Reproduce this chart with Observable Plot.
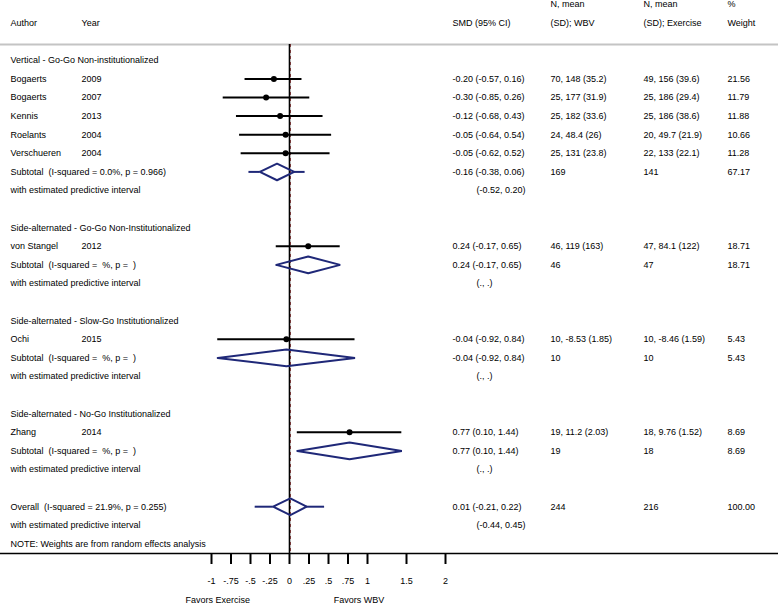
<!DOCTYPE html>
<html>
<head>
<meta charset="utf-8">
<script src="https://cdn.jsdelivr.net/npm/d3@7"></script>
<script src="https://cdn.jsdelivr.net/npm/@observablehq/plot@0.6"></script>
<style>
  html, body { margin: 0; padding: 0; background: white; }
  svg text { white-space: pre; }
</style>
</head>
<body>
<div id="chart"></div>
<script>
// ---- Study-level data ----
const authors = ["Bogaerts", "Bogaerts", "Kennis", "Roelants", "Verschueren", "von Stangel", "Ochi", "Zhang"];
const years = ["2009", "2007", "2013", "2004", "2004", "2012", "2015", "2014"];
const studyGroup = [0, 0, 0, 0, 0, 1, 2, 3];
const smd = [-0.20, -0.30, -0.12, -0.05, -0.05, 0.24, -0.04, 0.77];
const ciLow = [-0.57, -0.85, -0.68, -0.64, -0.62, -0.17, -0.92, 0.10];
const ciHigh = [0.16, 0.26, 0.43, 0.54, 0.52, 0.65, 0.84, 1.44];
const wbvText = ["70, 148 (35.2)", "25, 177 (31.9)", "25, 182 (33.6)", "24, 48.4 (26)", "25, 131 (23.8)", "46, 119 (163)", "10, -8.53 (1.85)", "19, 11.2 (2.03)"];
const exerciseText = ["49, 156 (39.6)", "25, 186 (29.4)", "25, 186 (38.6)", "20, 49.7 (21.9)", "22, 133 (22.1)", "47, 84.1 (122)", "10, -8.46 (1.59)", "18, 9.76 (1.52)"];
const weights = ["21.56", "11.79", "11.88", "10.66", "11.28", "18.71", "5.43", "8.69"];

// ---- Subgroup data ----
const groupLabels = ["Vertical - Go-Go Non-institutionalized", "Side-alternated - Go-Go Non-Institutionalized", "Side-alternated - Slow-Go Institutionalized", "Side-alternated - No-Go Institutionalized"];
const groupHet = ["I-squared = 0.0%, p = 0.966", "I-squared =  %, p =  ", "I-squared =  %, p =  ", "I-squared =  %, p =  "];
const groupSmd = [-0.16, 0.24, -0.04, 0.77];
const groupLow = [-0.38, -0.17, -0.92, 0.10];
const groupHigh = [0.06, 0.65, 0.84, 1.44];
const groupPiLow = [-0.52, null, null, null];
const groupPiHigh = [0.20, null, null, null];
const groupNWbv = ["169", "46", "10", "19"];
const groupNEx = ["141", "47", "10", "18"];
const groupWeight = ["67.17", "18.71", "5.43", "8.69"];

// ---- Overall ----
const overallHet = "I-squared = 21.9%, p = 0.255";
const overallSmd = 0.01, overallLow = -0.21, overallHigh = 0.22;
const overallPiLow = -0.44, overallPiHigh = 0.45;
const overallNWbv = "244", overallNEx = "216", overallWeight = "100.00";

// ---- Headers / axis ----
const headerLine1 = ["", "", "", "N, mean", "N, mean", "%"];
const headerLine2 = ["Author", "Year", "SMD (95% CI)", "(SD); WBV", "(SD); Exercise", "Weight"];
const noteText = "NOTE: Weights are from random effects analysis";
const piLabel = "with estimated predictive interval";
const tickValues = [-1, -0.75, -0.5, -0.25, 0, 0.25, 0.5, 0.75, 1, 1.5, 2];
const favorsLabels = ["Favors Exercise", "Favors WBV"];
const favorsX = [-0.92, 0.89];

// ---- Layout helpers ----
const COL = {author: 10, year: 81, smd: 452, pi: 476, wbv: 550, ex: 643, w: 727};
const headerCols = ["author", "year", "smd", "wbv", "ex", "w"];
const fmt = v => v.toFixed(2);
const ciStr = (e, l, h) => `${fmt(e)} (${fmt(l)}, ${fmt(h)})`;
const piStr = (l, h) => l == null ? "(., .)" : `(${fmt(l)}, ${fmt(h)})`;

const texts = [];
const studies = [];
const pooled = [];
let row = 0;
headerLine1.forEach((t, i) => texts.push({row: -3, col: headerCols[i], text: t}));
headerLine2.forEach((t, i) => texts.push({row: -2, col: headerCols[i], text: t}));

groupLabels.forEach((label, g) => {
  texts.push({row, col: "author", text: label});
  row++;
  authors.forEach((a, i) => {
    if (studyGroup[i] !== g) return;
    studies.push({row, est: smd[i], low: ciLow[i], high: ciHigh[i]});
    texts.push({row, col: "author", text: a});
    texts.push({row, col: "year", text: years[i]});
    texts.push({row, col: "smd", text: ciStr(smd[i], ciLow[i], ciHigh[i])});
    texts.push({row, col: "wbv", text: wbvText[i]});
    texts.push({row, col: "ex", text: exerciseText[i]});
    texts.push({row, col: "w", text: weights[i]});
    row++;
  });
  pooled.push({id: "g" + g, row, est: groupSmd[g], low: groupLow[g], high: groupHigh[g], piLow: groupPiLow[g], piHigh: groupPiHigh[g]});
  texts.push({row, col: "author", text: `Subtotal  (${groupHet[g]})`});
  texts.push({row, col: "smd", text: ciStr(groupSmd[g], groupLow[g], groupHigh[g])});
  texts.push({row, col: "wbv", text: groupNWbv[g]});
  texts.push({row, col: "ex", text: groupNEx[g]});
  texts.push({row, col: "w", text: groupWeight[g]});
  row++;
  texts.push({row, col: "author", text: piLabel});
  texts.push({row, col: "pi", text: piStr(groupPiLow[g], groupPiHigh[g])});
  row += 2;
});
pooled.push({id: "overall", row, est: overallSmd, low: overallLow, high: overallHigh, piLow: overallPiLow, piHigh: overallPiHigh});
texts.push({row, col: "author", text: `Overall  (${overallHet})`});
texts.push({row, col: "smd", text: ciStr(overallSmd, overallLow, overallHigh)});
texts.push({row, col: "wbv", text: overallNWbv});
texts.push({row, col: "ex", text: overallNEx});
texts.push({row, col: "w", text: overallWeight});
row++;
texts.push({row, col: "author", text: piLabel});
texts.push({row, col: "pi", text: piStr(overallPiLow, overallPiHigh)});
row++;
texts.push({row, col: "author", text: noteText});

const HALF = 0.45;
const diamondPts = pooled.flatMap(p => [
  {id: p.id, x: p.low, y: p.row},
  {id: p.id, x: p.est, y: p.row - HALF},
  {id: p.id, x: p.high, y: p.row},
  {id: p.id, x: p.est, y: p.row + HALF},
  {id: p.id, x: p.low, y: p.row}
]);
const piSegs = pooled.filter(p => p.piLow != null).flatMap(p => [
  {row: p.row, x1: p.piLow, x2: p.low},
  {row: p.row, x1: p.high, x2: p.piHigh}
]);

const rowStep = 18.6;
const yTop = -3;
const yBottom = yTop + (606 - 4 - 53) / rowStep;
const headerRule = -0.85;
const navy = "#1f2878";
const tickFmt = d => d === 0 ? "0" : (Math.abs(d) < 1 ? String(d).replace("0.", ".") : String(d));

const textMarks = Object.entries(COL).map(([col, dx]) =>
  Plot.text(texts.filter(t => t.col === col && t.text !== ""), {
    y: "row", text: "text", frameAnchor: "left", dx, textAnchor: "start", fill: "black"
  })
);

const chart = Plot.plot({
  width: 778,
  height: 606,
  marginLeft: 0,
  marginRight: 0,
  marginTop: 4,
  marginBottom: 53,
  x: {domain: [-289 / 78, 489 / 78], axis: null},
  y: {domain: [yTop, yBottom], reverse: true, axis: null},
  style: {fontFamily: "'Liberation Sans', Arial, Helvetica, sans-serif", fontSize: "9px", background: "white", color: "black"},
  marks: [
    Plot.ruleY([headerRule], {stroke: "#c4c4c4", strokeWidth: 2}),
    Plot.ruleX([overallSmd], {y1: headerRule, y2: yBottom, stroke: "#8b1a1a", strokeWidth: 1, strokeDasharray: "3,3"}),
    Plot.ruleX([0], {y1: headerRule, y2: yBottom, stroke: "black", strokeWidth: 1.6}),
    Plot.ruleY(studies, {y: "row", x1: "low", x2: "high", stroke: "black", strokeWidth: 2}),
    Plot.dot(studies, {x: "est", y: "row", r: 3, fill: "black", stroke: null}),
    Plot.ruleY(piSegs, {y: "row", x1: "x1", x2: "x2", stroke: navy, strokeWidth: 2}),
    Plot.line(diamondPts, {x: "x", y: "y", z: "id", stroke: navy, strokeWidth: 2, strokeLinejoin: "miter"}),
    ...textMarks,
    Plot.frame({anchor: "bottom", stroke: "black", strokeWidth: 1.5}),
    Plot.axisX({ticks: tickValues, tickFormat: tickFmt, tickSize: 11, tickPadding: 13, strokeWidth: 2, label: null, fontSize: 9, fill: "black"}),
    Plot.text(favorsLabels, {x: (d, i) => favorsX[i], text: d => d, frameAnchor: "bottom", dy: 49, fill: "black"})
  ]
});

document.getElementById("chart").appendChild(chart);
</script>
</body>
</html>
